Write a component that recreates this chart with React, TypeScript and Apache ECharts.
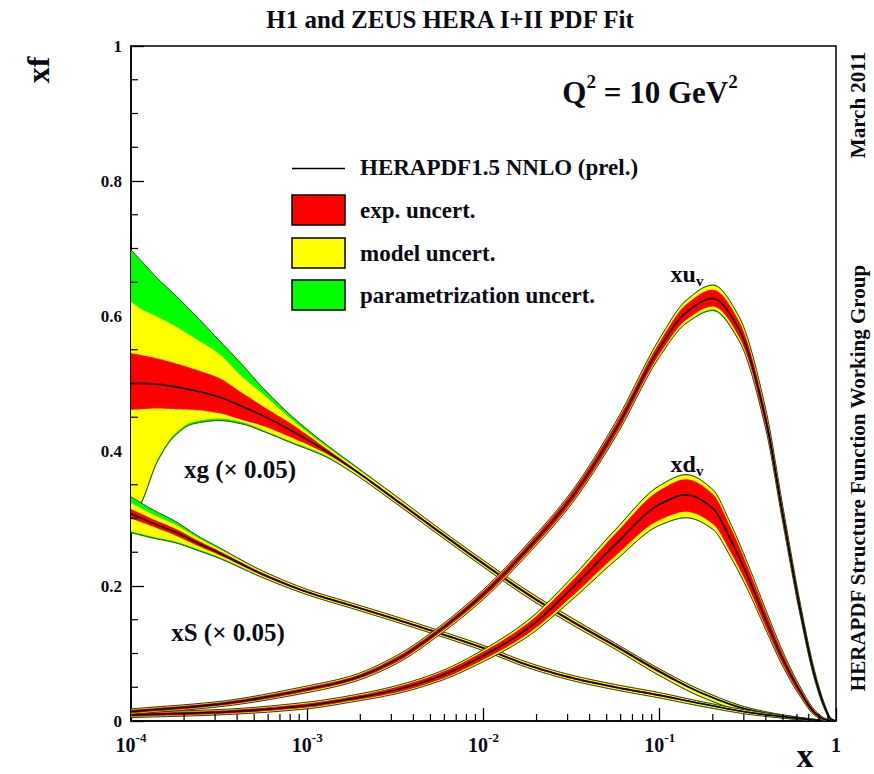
import React, { useEffect, useRef } from "react";
import * as echarts from "echarts";

// ---------- data ----------
// xg (x 0.05): x, central value, experimental / model / parametrisation band edges
const gX = [1e-4, 1.15e-4, 1.41e-4, 1.78e-4, 2.24e-4, 3.16e-4, 4.27e-4, 5.62e-4, 8.13e-4, 1.26e-3, 1.78e-3, 3.16e-3, 5.62e-3, 0.01, 0.0178, 0.0316, 0.0562, 0.1, 0.178, 0.316, 0.562, 0.794, 1];
const gC = [0.5, 0.5, 0.499, 0.495, 0.49, 0.48, 0.466, 0.452, 0.43, 0.401, 0.375, 0.328, 0.28, 0.233, 0.188, 0.148, 0.111, 0.073, 0.04, 0.017, 0.005, 0.001, 0];
const gParHi = [0.698, 0.681, 0.656, 0.631, 0.605, 0.564, 0.528, 0.493, 0.452, 0.411, 0.382, 0.334, 0.285, 0.238, 0.193, 0.153, 0.115, 0.077, 0.044, 0.02, 0.007, 0.002, 0];
const gModHi = [0.621, 0.61, 0.599, 0.585, 0.569, 0.544, 0.51, 0.484, 0.447, 0.408, 0.38, 0.333, 0.284, 0.237, 0.192, 0.152, 0.114, 0.076, 0.043, 0.019, 0.006, 0.0015, 0];
const gExpHi = [0.545, 0.542, 0.537, 0.53, 0.522, 0.508, 0.486, 0.466, 0.44, 0.405, 0.377, 0.33, 0.282, 0.235, 0.19, 0.15, 0.113, 0.075, 0.041, 0.018, 0.006, 0.001, 0];
const gExpLo = [0.461, 0.462, 0.463, 0.462, 0.461, 0.456, 0.446, 0.437, 0.42, 0.397, 0.373, 0.326, 0.278, 0.231, 0.186, 0.146, 0.109, 0.071, 0.039, 0.016, 0.004, 0.0005, 0];
const gModLo = [0.3, 0.327, 0.387, 0.426, 0.443, 0.448, 0.443, 0.431, 0.414, 0.394, 0.37, 0.324, 0.276, 0.229, 0.184, 0.144, 0.107, 0.068, 0.035, 0.013, 0.003, 0, 0];
const gParLo = [0.297, 0.324, 0.384, 0.423, 0.44, 0.445, 0.44, 0.429, 0.412, 0.392, 0.369, 0.323, 0.275, 0.228, 0.183, 0.143, 0.106, 0.067, 0.034, 0.012, 0.003, 0, 0];

// xS (x 0.05)
const sX = [1e-4, 1.33e-4, 1.78e-4, 2.37e-4, 3.16e-4, 5.62e-4, 1e-3, 1.78e-3, 3.16e-3, 5.62e-3, 0.01, 0.0178, 0.0316, 0.0562, 0.1, 0.178, 0.316, 0.562, 0.794, 1];
const sC = [0.307, 0.293, 0.28, 0.264, 0.249, 0.217, 0.191, 0.171, 0.151, 0.13, 0.108, 0.083, 0.064, 0.05, 0.038, 0.025, 0.013, 0.005, 0.001, 0];
const sParHi = [0.332, 0.313, 0.296, 0.275, 0.257, 0.222, 0.195, 0.175, 0.155, 0.134, 0.112, 0.087, 0.068, 0.054, 0.042, 0.028, 0.016, 0.007, 0.002, 0];
const sModHi = [0.323, 0.306, 0.291, 0.272, 0.255, 0.221, 0.1945, 0.1745, 0.1545, 0.1335, 0.1115, 0.0865, 0.0675, 0.0535, 0.0415, 0.0275, 0.0155, 0.0065, 0.002, 0];
const sExpHi = [0.314, 0.299, 0.285, 0.268, 0.252, 0.219, 0.1925, 0.1725, 0.1525, 0.1315, 0.1095, 0.0845, 0.0655, 0.0515, 0.0395, 0.026, 0.014, 0.006, 0.0015, 0];
const sExpLo = [0.3, 0.288, 0.275, 0.26, 0.246, 0.215, 0.1895, 0.1695, 0.1495, 0.1285, 0.1065, 0.0815, 0.0625, 0.0485, 0.0365, 0.024, 0.012, 0.004, 0.0005, 0];
const sModLo = [0.281, 0.273, 0.266, 0.255, 0.243, 0.213, 0.1875, 0.1675, 0.1475, 0.1265, 0.1045, 0.0795, 0.0605, 0.0465, 0.0345, 0.022, 0.01, 0.003, 0, 0];
const sParLo = [0.279, 0.271, 0.264, 0.253, 0.241, 0.212, 0.187, 0.167, 0.147, 0.126, 0.104, 0.079, 0.06, 0.046, 0.034, 0.021, 0.01, 0.003, 0, 0];

// xu_v : central value and band half-widths (up / down)
const uX = [1e-4, 3.16e-4, 1e-3, 1.78e-3, 3.16e-3, 5.62e-3, 0.01, 0.0178, 0.0316, 0.0562, 0.1, 0.141, 0.2, 0.282, 0.398, 0.501, 0.631, 0.759, 0.871, 0.933, 1];
const uC = [0.014, 0.025, 0.047, 0.062, 0.09, 0.134, 0.188, 0.255, 0.331, 0.432, 0.553, 0.605, 0.626, 0.58, 0.448, 0.303, 0.161, 0.066, 0.018, 0.003, 0];
const uParUp = [0.004, 0.004, 0.005, 0.005, 0.006, 0.006, 0.007, 0.008, 0.009, 0.011, 0.014, 0.018, 0.02, 0.019, 0.016, 0.013, 0.01, 0.007, 0.004, 0.002, 0];
const uModUp = [0.0035, 0.0035, 0.0045, 0.0045, 0.0055, 0.0055, 0.0065, 0.0075, 0.0085, 0.01, 0.013, 0.017, 0.019, 0.018, 0.015, 0.012, 0.009, 0.006, 0.0035, 0.0015, 0];
const uExpUp = [0.0025, 0.0025, 0.003, 0.003, 0.004, 0.004, 0.005, 0.006, 0.007, 0.008, 0.009, 0.012, 0.013, 0.012, 0.01, 0.008, 0.006, 0.004, 0.002, 0.001, 0];
const uExpDn = [0.0025, 0.0025, 0.003, 0.003, 0.004, 0.004, 0.005, 0.006, 0.007, 0.008, 0.009, 0.011, 0.012, 0.011, 0.01, 0.008, 0.006, 0.004, 0.002, 0.001, 0];
const uModDn = [0.0035, 0.0035, 0.0045, 0.0045, 0.0055, 0.006, 0.007, 0.008, 0.009, 0.01, 0.012, 0.015, 0.016, 0.015, 0.013, 0.011, 0.008, 0.006, 0.003, 0.0015, 0];
const uParDn = [0.004, 0.004, 0.005, 0.005, 0.006, 0.0065, 0.0075, 0.0085, 0.0095, 0.011, 0.013, 0.016, 0.018, 0.017, 0.014, 0.012, 0.009, 0.0065, 0.0035, 0.002, 0];

// xd_v : central value and band half-widths (up / down)
const dX = [1e-4, 3.16e-4, 1e-3, 1.78e-3, 3.16e-3, 5.62e-3, 0.01, 0.0178, 0.0316, 0.0562, 0.1, 0.141, 0.2, 0.251, 0.316, 0.398, 0.501, 0.631, 0.759, 0.871, 1];
const dC = [0.009, 0.013, 0.023, 0.033, 0.046, 0.066, 0.097, 0.137, 0.196, 0.262, 0.321, 0.335, 0.315, 0.27, 0.214, 0.151, 0.091, 0.042, 0.012, 0.002, 0];
const dParUp = [0.004, 0.004, 0.005, 0.005, 0.006, 0.007, 0.009, 0.012, 0.016, 0.022, 0.028, 0.03, 0.028, 0.024, 0.019, 0.015, 0.011, 0.007, 0.004, 0.002, 0];
const dModUp = [0.0035, 0.0035, 0.0045, 0.0045, 0.0055, 0.0065, 0.0083, 0.011, 0.015, 0.021, 0.027, 0.029, 0.027, 0.023, 0.018, 0.014, 0.01, 0.0065, 0.0035, 0.0015, 0];
const dExpUp = [0.0025, 0.0025, 0.003, 0.003, 0.004, 0.005, 0.006, 0.008, 0.011, 0.016, 0.021, 0.023, 0.021, 0.018, 0.014, 0.011, 0.008, 0.005, 0.003, 0.001, 0];
const dExpDn = [0.0025, 0.0025, 0.003, 0.003, 0.004, 0.005, 0.006, 0.008, 0.012, 0.017, 0.023, 0.025, 0.023, 0.019, 0.014, 0.011, 0.008, 0.005, 0.003, 0.001, 0];
const dModDn = [0.0035, 0.0035, 0.0045, 0.0045, 0.0055, 0.0065, 0.0083, 0.0115, 0.016, 0.023, 0.03, 0.033, 0.03, 0.025, 0.019, 0.014, 0.01, 0.0065, 0.0035, 0.0015, 0];
const dParDn = [0.004, 0.004, 0.005, 0.005, 0.006, 0.007, 0.009, 0.012, 0.017, 0.024, 0.031, 0.034, 0.031, 0.026, 0.02, 0.015, 0.011, 0.007, 0.004, 0.002, 0];

// axis ticks
const xMin = 1e-4;
const xMax = 1;
const xDecades = [1e-4, 1e-3, 1e-2, 1e-1];
const xMinorMult = [2, 3, 4, 5, 6, 7, 8, 9];
const yMinorTicks = [0.05, 0.1, 0.15, 0.25, 0.3, 0.35, 0.45, 0.5, 0.55, 0.65, 0.7, 0.75, 0.85, 0.9, 0.95];

// legend
const legendItems = ["exp. uncert.", "model uncert.", "parametrization uncert."];
const legendLine = "HERAPDF1.5 NNLO (prel.)";

// ---------- styling ----------
const FONT = "'Liberation Serif', 'Times New Roman', serif";
const INK = "#0b0b16";
const RED = "#ff0000";
const YELLOW = "#ffff00";
const GREEN = "#00ff00";
const EDGE = "#2a2a12";

const plus = (a: number[], b: number[]) => a.map((v, i) => v + b[i]);
const minus = (a: number[], b: number[]) => a.map((v, i) => Math.max(0, v - b[i]));

type Pdf = { x: number[]; c: number[]; pLo: number[]; pHi: number[]; mLo: number[]; mHi: number[]; eLo: number[]; eHi: number[] };

const pdfs: Pdf[] = [
  { x: gX, c: gC, pLo: gParLo, pHi: gParHi, mLo: gModLo, mHi: gModHi, eLo: gExpLo, eHi: gExpHi },
  { x: sX, c: sC, pLo: sParLo, pHi: sParHi, mLo: sModLo, mHi: sModHi, eLo: sExpLo, eHi: sExpHi },
  { x: dX, c: dC, pLo: minus(dC, dParDn), pHi: plus(dC, dParUp), mLo: minus(dC, dModDn), mHi: plus(dC, dModUp), eLo: minus(dC, dExpDn), eHi: plus(dC, dExpUp) },
  { x: uX, c: uC, pLo: minus(uC, uParDn), pHi: plus(uC, uParUp), mLo: minus(uC, uModDn), mHi: plus(uC, uModUp), eLo: minus(uC, uExpDn), eHi: plus(uC, uExpUp) },
];

type Layer = { kind: "band" | "line"; x: number[]; lo: number[]; hi: number[]; color: string; width: number };
const layers: Layer[] = [];
pdfs.forEach((p) => {
  layers.push({ kind: "band", x: p.x, lo: p.pLo, hi: p.pHi, color: GREEN, width: 0 });
  layers.push({ kind: "band", x: p.x, lo: p.mLo, hi: p.mHi, color: YELLOW, width: 0 });
  layers.push({ kind: "band", x: p.x, lo: p.eLo, hi: p.eHi, color: RED, width: 0 });
  layers.push({ kind: "line", x: p.x, lo: p.pLo, hi: p.pLo, color: EDGE, width: 0.9 });
  layers.push({ kind: "line", x: p.x, lo: p.pHi, hi: p.pHi, color: EDGE, width: 0.9 });
  layers.push({ kind: "line", x: p.x, lo: p.c, hi: p.c, color: "#000", width: 1.6 });
});

// monotone cubic (in pixel space) for smooth drawing of the read points
function smoothPts(pts: number[][], steps = 12): number[][] {
  const n = pts.length;
  if (n < 3) return pts;
  const dx: number[] = [];
  const m: number[] = [];
  for (let i = 0; i < n - 1; i++) {
    dx[i] = pts[i + 1][0] - pts[i][0];
    m[i] = dx[i] ? (pts[i + 1][1] - pts[i][1]) / dx[i] : 0;
  }
  const t: number[] = new Array(n);
  t[0] = m[0];
  t[n - 1] = m[n - 2];
  for (let i = 1; i < n - 1; i++) {
    if (m[i - 1] * m[i] <= 0) t[i] = 0;
    else {
      const w1 = 2 * dx[i] + dx[i - 1];
      const w2 = dx[i] + 2 * dx[i - 1];
      t[i] = (w1 + w2) / (w1 / m[i - 1] + w2 / m[i]);
    }
  }
  const out: number[][] = [pts[0]];
  for (let i = 0; i < n - 1; i++) {
    const h = dx[i];
    for (let s = 1; s <= steps; s++) {
      const u = s / steps;
      const u2 = u * u;
      const u3 = u2 * u;
      const h00 = 2 * u3 - 3 * u2 + 1;
      const h10 = u3 - 2 * u2 + u;
      const h01 = -2 * u3 + 3 * u2;
      const h11 = u3 - u2;
      out.push([pts[i][0] + u * h, h00 * pts[i][1] + h10 * h * t[i] + h01 * pts[i + 1][1] + h11 * h * t[i + 1]]);
    }
  }
  return out;
}

function buildSeries() {
  const out: any[] = [];
  out.push({
    type: "custom",
    coordinateSystem: "cartesian2d",
    data: layers.map((_, i) => [1e-3, 0.5, i]),
    encode: { x: 0, y: 1 },
    clip: true,
    silent: true,
    renderItem: (params: any, api: any) => {
      const L = layers[params.dataIndex];
      const up = smoothPts(L.x.map((v, i) => api.coord([v, L.hi[i]])));
      if (L.kind === "line") {
        return { type: "polyline", shape: { points: up }, style: { stroke: L.color, lineWidth: L.width, fill: "none" } };
      }
      const lo = smoothPts(L.x.map((v, i) => api.coord([v, L.lo[i]])));
      return { type: "polygon", shape: { points: up.concat(lo.reverse()) }, style: { fill: L.color, stroke: "none" } };
    },
  });
  // x minor ticks (2..9 per decade), pointing into the frame
  const minor: number[][] = [];
  xDecades.forEach((d) => xMinorMult.forEach((k) => minor.push([d * k, 0])));
  out.push({
    type: "custom",
    coordinateSystem: "cartesian2d",
    data: minor,
    encode: { x: 0, y: 1 },
    clip: false,
    silent: true,
    z: 10,
    renderItem: (_params: any, api: any) => {
      const p = api.coord([api.value(0), 0]);
      return { type: "line", shape: { x1: p[0], y1: p[1], x2: p[0], y2: p[1] - 7 }, style: { stroke: "#000", lineWidth: 1.2 } };
    },
  });
  // y minor ticks, pointing into the frame
  out.push({
    type: "custom",
    coordinateSystem: "cartesian2d",
    data: yMinorTicks.map((v) => [xMin, v]),
    encode: { x: 0, y: 1 },
    clip: false,
    silent: true,
    z: 10,
    renderItem: (_params: any, api: any) => {
      const p = api.coord([xMin, api.value(1)]);
      return { type: "line", shape: { x1: p[0], y1: p[1], x2: p[0] + 7, y2: p[1] }, style: { stroke: "#000", lineWidth: 1.2 } };
    },
  });
  return out;
}

function txt(x: number, y: number, text: string, size: number, extra: any = {}) {
  return {
    type: "text",
    x,
    y,
    silent: true,
    ...extra,
    style: {
      text,
      fill: INK,
      font: `bold ${size}px ${FONT}`,
      align: extra.align || "center",
      verticalAlign: "middle",
    },
  };
}

function buildGraphic() {
  const g: any[] = [];
  g.push(txt(450, 19, "H1 and ZEUS HERA I+II PDF Fit", 25));
  g.push({
    type: "text",
    x: 650,
    y: 90,
    silent: true,
    style: {
      text: "{q|Q}{s|2}{q| = 10 GeV}{s|2}",
      align: "center",
      verticalAlign: "middle",
      rich: {
        q: { fontSize: 31, fontWeight: "bold", fontFamily: FONT, fill: INK, lineHeight: 36, verticalAlign: "bottom" },
        s: { fontSize: 19, fontWeight: "bold", fontFamily: FONT, fill: INK, lineHeight: 19, verticalAlign: "top" },
      },
    },
  });
  // legend
  g.push({ type: "line", silent: true, shape: { x1: 292, y1: 168.5, x2: 345, y2: 168.5 }, style: { stroke: "#000", lineWidth: 1.6 } });
  g.push(txt(360, 167, legendLine, 23, { align: "left" }));
  const cols = [RED, YELLOW, GREEN];
  const ys = [210, 253, 295];
  legendItems.forEach((t, i) => {
    g.push({ type: "rect", silent: true, shape: { x: 292, y: ys[i] - 15, width: 53, height: 30 }, style: { fill: cols[i], stroke: "#000", lineWidth: 1.5 } });
    g.push(txt(360, ys[i], t, 23, { align: "left" }));
  });
  // curve labels
  g.push(txt(240, 469, "xg (\u00d7 0.05)", 25));
  g.push(txt(228, 632, "xS (\u00d7 0.05)", 25));
  const sub = (x: number, y: number, a: string) => ({
    type: "text",
    x,
    y,
    silent: true,
    style: {
      text: `{a|${a}}{v|v}`,
      align: "center",
      verticalAlign: "middle",
      rich: {
        a: { fontSize: 24, fontWeight: "bold", fontFamily: FONT, fill: INK, lineHeight: 26, verticalAlign: "top" },
        v: { fontSize: 15, fontWeight: "bold", fontFamily: FONT, fill: INK, lineHeight: 15, verticalAlign: "bottom" },
      },
    },
  });
  g.push(sub(687, 275, "xu"));
  g.push(sub(687, 465, "xd"));
  // axis titles
  g.push(txt(38, 70, "xf", 32, { rotation: Math.PI / 2 }));
  g.push(txt(805, 755, "x", 34));
  // side texts
  g.push(txt(858, 105, "March 2011", 21, { rotation: Math.PI / 2 }));
  g.push(txt(858, 478, "HERAPDF Structure Function Working Group", 21, { rotation: Math.PI / 2 }));
  return g;
}

const option: any = {
  animation: false,
  backgroundColor: "#ffffff",
  grid: { left: 131, right: 38, top: 46, bottom: 53, show: true, borderColor: "#000", borderWidth: 1.5, backgroundColor: "transparent" },
  xAxis: {
    type: "log",
    logBase: 10,
    min: xMin,
    max: xMax,
    axisLine: { show: true, lineStyle: { color: "#000", width: 1.5 } },
    axisTick: { show: true, inside: true, length: 13, lineStyle: { color: "#000", width: 1.3 } },
    minorTick: { show: false },
    splitLine: { show: false },
    axisLabel: {
      margin: 10,
      formatter: (v: number) => {
        const e = Math.round(Math.log10(v));
        return e === 0 ? "{b|1}" : `{b|10}{s|${e}}`;
      },
      rich: {
        b: { fontSize: 20, fontWeight: "bold", fontFamily: FONT, color: INK, lineHeight: 24, verticalAlign: "bottom" },
        s: { fontSize: 13, fontWeight: "bold", fontFamily: FONT, color: INK, lineHeight: 13, verticalAlign: "top" },
      },
    },
  },
  yAxis: {
    type: "value",
    min: 0,
    max: 1,
    interval: 0.2,
    axisLine: { show: true, lineStyle: { color: "#000", width: 1.5 } },
    axisTick: { show: true, inside: true, length: 13, lineStyle: { color: "#000", width: 1.3 } },
    minorTick: { show: false },
    splitLine: { show: false },
    axisLabel: { margin: 9, fontSize: 17, fontWeight: "bold", fontFamily: FONT, color: INK },
  },
  series: buildSeries(),
  graphic: buildGraphic(),
};

export default function App() {
  const ref = useRef<HTMLDivElement>(null);
  useEffect(() => {
    document.body.style.margin = "0";
    const chart = echarts.init(ref.current as HTMLDivElement, null, { renderer: "svg" });
    chart.setOption(option);
    return () => chart.dispose();
  }, []);
  return <div ref={ref} style={{ width: 874, height: 774 }} />;
}
